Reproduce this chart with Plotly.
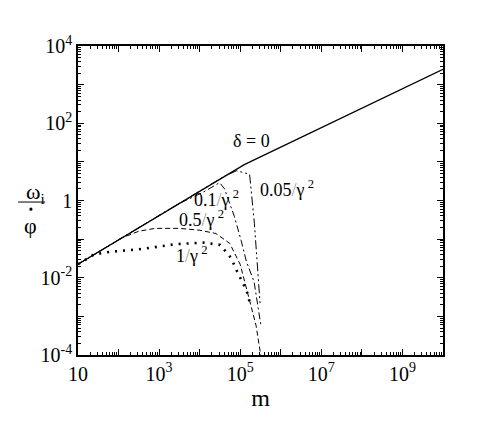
import plotly.graph_objects as go

# m values and omega_i / phi-dot
m_d0 = [1e1, 1.26e5, 1e10]
w_d0 = [2.24e-2, 8.5, 2.5e3]

m_005 = [1e1, 4.0e4, 8.1e4, 1.7e5, 2.24e5, 2.7e5, 3.1e5]
w_005 = [2.24e-2, 4.2, 5.9, 4.8, 0.25, 1.6e-2, 2.0e-3]

m_01 = [1e1, 3.2e3, 1.17e4, 3.1e4, 4.1e4, 7.2e4, 1.05e5, 1.41e5, 2.2e5, 2.8e5, 3.2e5]
w_01 = [2.24e-2, 0.85, 1.6, 2.9, 2.0, 0.38, 9.3e-2, 2.7e-2, 7.8e-3, 1.8e-3, 6.3e-4]

m_05 = [1e1, 63, 126, 316, 794, 3.2e3, 1e4, 2.5e4, 5.5e4, 1e5, 1.86e5, 2.45e5, 3.2e5]
w_05 = [2.24e-2, 7.1e-2, 0.11, 0.16, 0.19, 0.19, 0.17, 0.14, 7.8e-2, 2.2e-2, 2.0e-3, 5.9e-4, 1e-4]

m_1 = [1e1, 25, 63, 400, 2.5e3, 1.26e4, 3.2e4, 6.0e4, 7.9e4, 1.05e5, 1.29e5, 1.55e5, 1.7e5]
w_1 = [2.24e-2, 4.0e-2, 4.7e-2, 5.6e-2, 7.4e-2, 8.1e-2, 7.1e-2, 3.2e-2, 1.66e-2, 9.5e-3, 5.8e-3, 3.7e-3, 2.3e-3]

x_ticks = [10 ** k for k in range(1, 11)]
x_text = ['10', '', '10<sup>3</sup>', '', '10<sup>5</sup>', '', '10<sup>7</sup>', '', '10<sup>9</sup>', '']
y_ticks = [10.0 ** k for k in range(-4, 5)]
y_text = ['10<sup>-4</sup>', '', '10<sup>-2</sup>', '', '1', '', '10<sup>2</sup>', '', '10<sup>4</sup>']

serif = 'Liberation Serif'

fig = go.Figure()
fig.add_scatter(x=m_d0, y=w_d0, mode='lines', line=dict(color='black', width=1.3), showlegend=False)
fig.add_scatter(x=m_005, y=w_005, mode='lines',
                line=dict(color='black', width=1, dash='9px,3px,2px,3px,2px,3px'), showlegend=False)
fig.add_scatter(x=m_01, y=w_01, mode='lines',
                line=dict(color='black', width=1, dash='7px,3px,2px,3px'), showlegend=False)
fig.add_scatter(x=m_05, y=w_05, mode='lines',
                line=dict(color='black', width=1, dash='5px,3px'), showlegend=False)
fig.add_scatter(x=m_1, y=w_1, mode='lines',
                line=dict(color='black', width=2.6, dash='2px,6px'), showlegend=False)

minor_x = [j * 10 ** k for k in range(1, 10) for j in range(2, 10)]
minor_y = [j * 10.0 ** k for k in range(-4, 4) for j in range(2, 10)]

fig.update_xaxes(type='log', range=[1, 10], tickvals=x_ticks, ticktext=x_text,
                 ticks='inside', ticklen=6, tickcolor='black', mirror='allticks',
                 showline=True, linecolor='black', linewidth=1.5, showgrid=False, zeroline=False,
                 minor=dict(tickvals=minor_x, ticks='inside', ticklen=3, tickcolor='black'),
                 tickfont=dict(family=serif, size=20, color='black'),
                 title=dict(text='m', font=dict(family=serif, size=24, color='black'), standoff=4))
fig.update_yaxes(type='log', range=[-4, 4], tickvals=y_ticks, ticktext=y_text,
                 ticks='inside', ticklen=6, tickcolor='black', mirror='allticks',
                 showline=True, linecolor='black', linewidth=1.5, showgrid=False, zeroline=False,
                 minor=dict(tickvals=minor_y, ticks='inside', ticklen=3, tickcolor='black'),
                 tickfont=dict(family=serif, size=20, color='black'))

lab = dict(family=serif, size=18, color='black')
sl = "<span style='color:#999'>/</span>"
fig.add_annotation(x=5.27, y=1.54, text='δ = 0', showarrow=False, font=lab)
fig.add_annotation(x=6.15, y=0.32, text='0.05' + sl + 'γ<sup> 2</sup>', showarrow=False, font=lab)
fig.add_annotation(x=4.42, y=0.06, text='0.1' + sl + 'γ<sup> 2</sup>', showarrow=False, font=lab)
fig.add_annotation(x=4.05, y=-0.47, text='0.5' + sl + 'γ<sup> 2</sup>', showarrow=False, font=lab)
fig.add_annotation(x=3.81, y=-1.41, text='1' + sl + 'γ<sup> 2</sup>', showarrow=False, font=lab)

# y label as a stacked fraction: omega_i over phi with a dot
ylab = dict(family=serif, size=22, color='black')
fig.add_annotation(xref='paper', yref='paper', x=-0.117, y=0.524, xanchor='center', yanchor='middle',
                   text='ω<sub>i</sub>', showarrow=False, font=ylab)
fig.add_annotation(xref='paper', yref='paper', x=-0.129, y=0.42, xanchor='center', yanchor='middle',
                   text='φ', showarrow=False, font=ylab)
fig.add_shape(type='circle', xref='paper', yref='paper', xsizemode='pixel', ysizemode='pixel',
              xanchor=-0.129, yanchor=0.472, x0=-1.6, x1=1.6, y0=-1.6, y1=1.6,
              fillcolor='black', line=dict(width=0))
fig.add_shape(type='line', xref='paper', yref='paper', x0=-0.164, x1=-0.09, y0=0.495, y1=0.495,
              line=dict(color='black', width=1))

# page body adds an 8px margin, so the figure is 8px smaller than the window
fig.update_layout(width=477, height=430, margin=dict(l=70, r=42, t=38, b=83),
                  plot_bgcolor='white', paper_bgcolor='white')
fig.write_html('out.html')
